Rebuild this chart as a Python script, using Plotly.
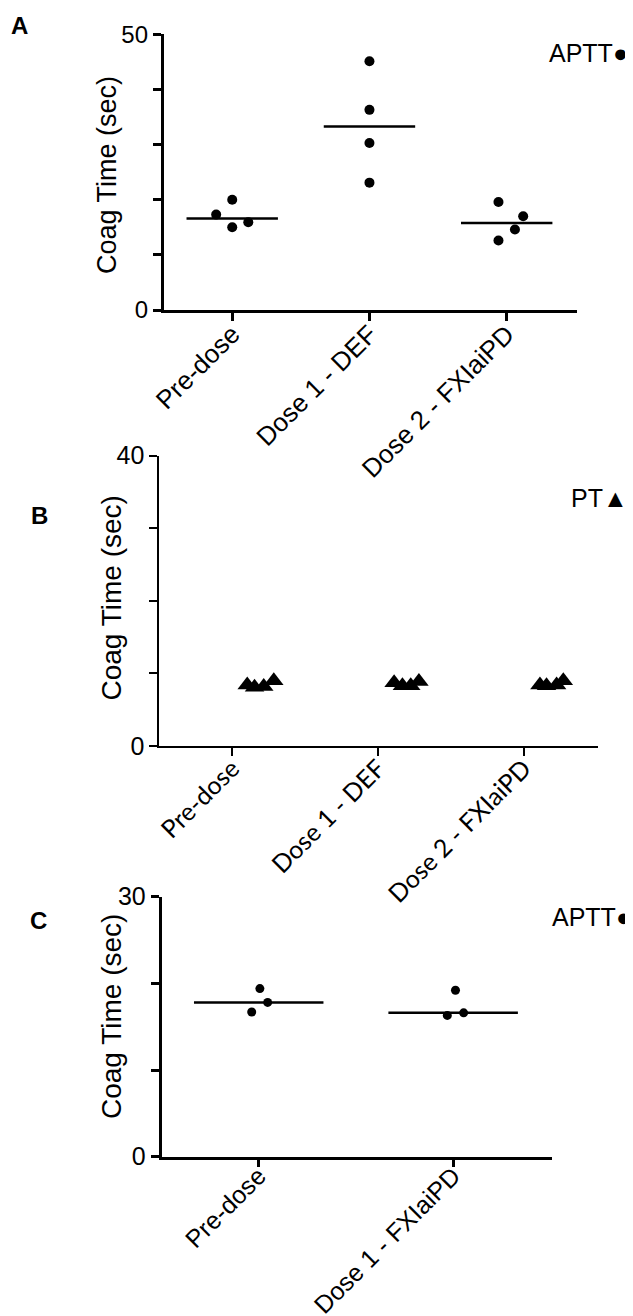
import statistics
import plotly.graph_objects as go

# ---------------- data ----------------
a_categories = ["Pre-dose", "Dose 1 - DEF", "Dose 2 - FXIaiPD"]
a_pre = [20.0, 17.3, 15.0, 15.9]
a_dose1 = [45.1, 36.3, 30.3, 23.1]
a_dose2 = [19.6, 17.0, 14.6, 12.6]
a_tickvals = [0, 10, 20, 30, 40, 50]
a_ticktext = ["0", "", "", "", "", "50"]

b_categories = ["Pre-dose", "Dose 1 - DEF", "Dose 2 - FXIaiPD"]
b_pre = [8.4, 8.1, 8.2, 9.0]
b_dose1 = [8.7, 8.3, 8.3, 8.9]
b_dose2 = [8.4, 8.3, 8.4, 9.0]
b_tickvals = [0, 10, 20, 30, 40]
b_ticktext = ["0", "", "", "", "40"]

c_categories = ["Pre-dose", "Dose 1 - FXIaiPD"]
c_pre = [19.4, 17.8, 16.7]
c_dose1 = [19.2, 16.3, 16.6]
c_tickvals = [0, 10, 20, 30]
c_ticktext = ["0", "", "", "30"]

y_title = "Coag Time (sec)"

# ---------------- layout helpers (positions / styles) ----------------
a_offsets = [[0, -0.117, 0, 0.117], [0, 0, 0, 0], [-0.06, 0.12, 0.06, -0.06]]
b_offsets = [[0.103, 0.153, 0.216, 0.285], [0.11, 0.167, 0.224, 0.28], [0.11, 0.155, 0.224, 0.27]]
c_offsets = [[0.006, 0.046, -0.036], [0.012, -0.03, 0.054]]
HALF = 0.333

PAGE_MARGIN = 8  # default body margin of the html page
W, H = 633 - PAGE_MARGIN, 1316 - PAGE_MARGIN
FONT = "Liberation Sans, Arial, sans-serif"


def px_x(v):
    return (v - PAGE_MARGIN) / W


def px_y(v):
    return 1 - (v - PAGE_MARGIN) / H


fig = go.Figure()


def add_panel(groups, offsets, xa, ya, symbol, size, median_line):
    for i, (vals, offs) in enumerate(zip(groups, offsets)):
        fig.add_trace(go.Scatter(
            x=[i + o for o in offs], y=vals, mode="markers",
            marker=dict(symbol=symbol, size=size, color="black",
                        line=dict(width=0)),
            xaxis=xa, yaxis=ya, showlegend=False, hoverinfo="y"))
        if median_line:
            m = statistics.median(vals)
            fig.add_trace(go.Scatter(
                x=[i - HALF, i + HALF], y=[m, m], mode="lines",
                line=dict(color="black", width=2.5),
                xaxis=xa, yaxis=ya, showlegend=False, hoverinfo="skip"))


add_panel([a_pre, a_dose1, a_dose2], a_offsets, "x", "y", "circle", 10, True)
add_panel([b_pre, b_dose1, b_dose2], b_offsets, "x2", "y2", "triangle-up", 17, False)
add_panel([c_pre, c_dose1], c_offsets, "x3", "y3", "circle", 9, True)


def xaxis(domain, anchor, cats, fnt, fsize, lw, standoff):
    return dict(domain=domain, anchor=anchor, range=[-0.5, len(cats) - 0.5 + 0.01],
                tickmode="array", tickvals=list(range(len(cats))), ticktext=cats,
                tickangle=-45, ticks="outside", ticklen=8, tickwidth=lw,
                tickcolor="black", showline=True, linewidth=lw, linecolor="black",
                showgrid=False, zeroline=False, automargin=False,
                ticklabelstandoff=standoff,
                tickfont=dict(family=fnt, size=fsize, color="black"))


def yaxis(domain, anchor, rng, tv, tt, lw, tsize):
    return dict(domain=domain, anchor=anchor, range=rng, tickmode="array",
                tickvals=tv, ticktext=tt, ticks="outside", ticklen=8, tickwidth=lw,
                tickcolor="black", showline=True, linewidth=lw, linecolor="black",
                showgrid=False, zeroline=False, automargin=False,
                tickfont=dict(family=FONT, size=tsize, color="black"))


fig.update_layout(
    template="none",
    width=W, height=H, margin=dict(l=0, r=0, t=0, b=0, autoexpand=False),
    paper_bgcolor="white", plot_bgcolor="white", showlegend=False,
    xaxis=xaxis([px_x(163.6), px_x(576.7)], "y", a_categories, FONT, 26, 2.5, -12),
    yaxis=yaxis([px_y(310), px_y(34.3)], "x", [0, 50], a_tickvals, a_ticktext, 2.5, 24),
    xaxis2=xaxis([px_x(159.3), px_x(598.3)], "y2", b_categories, "Lato, Open Sans, sans-serif", 25, 2, -12),
    yaxis2=yaxis([px_y(746), px_y(455.7)], "x2", [0, 40], b_tickvals, b_ticktext, 2, 25),
    xaxis3=xaxis([px_x(161.5), px_x(552.3)], "y3", c_categories, FONT, 25, 2.5, -16),
    yaxis3=yaxis([px_y(1156.7), px_y(896.7)], "x3", [0, 30], c_tickvals, c_ticktext, 2.5, 25),
)

annotations = [
    dict(text="<b>A</b>", x=19, y=25, size=24, anchor="center", angle=0),
    dict(text="<b>B</b>", x=39, y=515, size=24, anchor="center", angle=0),
    dict(text="<b>C</b>", x=38, y=920, size=24, anchor="center", angle=0),
    dict(text="APTT●", x=630, y=53, size=25, anchor="right", angle=0),
    dict(text="PT▲", x=630, y=498, size=25, anchor="right", angle=0),
    dict(text="APTT●", x=633, y=917, size=25, anchor="right", angle=0),
    dict(text=y_title, x=107, y=175, size=27, anchor="center", angle=-90),
    dict(text=y_title, x=111.5, y=598, size=28, anchor="center", angle=-90),
    dict(text=y_title, x=111, y=1017, size=28, anchor="center", angle=-90),
]
for a in annotations:
    fig.add_annotation(text=a["text"], x=px_x(a["x"]), y=px_y(a["y"]), xref="paper", yref="paper",
                       showarrow=False, xanchor=a["anchor"], yanchor="middle", textangle=a["angle"],
                       font=dict(family=FONT, size=a["size"], color="black"))

fig.write_html("out.html")
